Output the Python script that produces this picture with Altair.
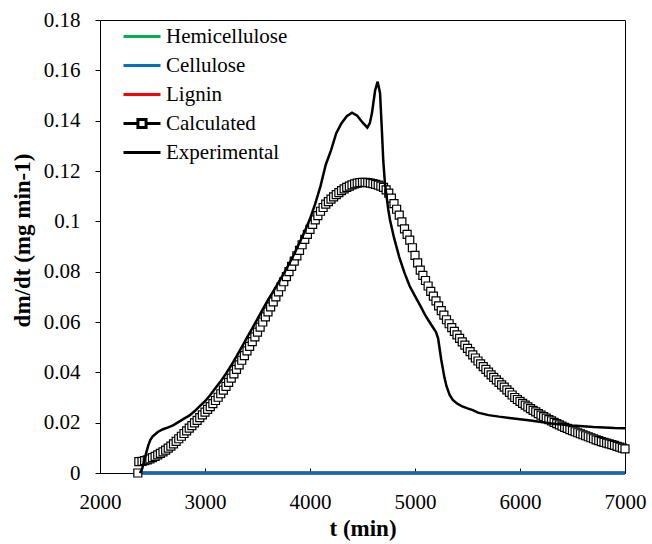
import altair as alt
import pandas as pd

# ---- data ----
series_names = ["Hemicellulose", "Cellulose", "Lignin", "Calculated", "Experimental"]
series_colors = ["#00B050", "#0070C0", "#FF0000", "black", "black"]

component_t = [2400, 7000]
hemicellulose = [0.0, 0.0]
cellulose = [0.0, 0.0]
lignin = [0.0, 0.0]

calc_t = [2360, 2370] + list(range(2400, 7001, 25))
calc_v = [0.0, 0.0045,
          0.0046, 0.0049, 0.0052, 0.0056, 0.0061, 0.0066, 0.0072, 0.0078, 0.0084, 0.0091,
          0.0099, 0.0107, 0.0116, 0.0126, 0.0136, 0.0146, 0.0157, 0.0167, 0.0178, 0.0188,
          0.0199, 0.0209, 0.0220, 0.0231, 0.0242, 0.0253, 0.0264, 0.0276, 0.0288, 0.0301,
          0.0315, 0.0329, 0.0344, 0.0360, 0.0377, 0.0394, 0.0412, 0.0430, 0.0448, 0.0466,
          0.0485, 0.0503, 0.0522, 0.0541, 0.0560, 0.0580, 0.0600, 0.0620, 0.0640, 0.0660,
          0.0680, 0.0700, 0.0720, 0.0740, 0.0760, 0.0780, 0.0800, 0.0821, 0.0842, 0.0863,
          0.0885, 0.0907, 0.0928, 0.0948, 0.0968, 0.0988, 0.1006, 0.1023, 0.1040, 0.1055,
          0.1068, 0.1078, 0.1088, 0.1097, 0.1106, 0.1114, 0.1122, 0.1129, 0.1135, 0.1140,
          0.1145, 0.1149, 0.1152, 0.1154, 0.1155, 0.1155, 0.1154, 0.1152, 0.1150, 0.1147,
          0.1144, 0.1140, 0.1135, 0.1125, 0.1112, 0.1092, 0.1070, 0.1048, 0.1025, 0.0998,
          0.0970, 0.0948, 0.0925, 0.0895, 0.0865, 0.0835, 0.0806, 0.0785, 0.0765, 0.0743,
          0.0722, 0.0703, 0.0684, 0.0664, 0.0645, 0.0627, 0.0609, 0.0593, 0.0578, 0.0563,
          0.0549, 0.0535, 0.0521, 0.0508, 0.0495, 0.0482, 0.0469, 0.0457, 0.0445, 0.0434,
          0.0423, 0.0412, 0.0401, 0.0390, 0.0380, 0.0370, 0.0360, 0.0350, 0.0341, 0.0330,
          0.0320, 0.0310, 0.0300, 0.0292, 0.0285, 0.0277, 0.0270, 0.0263, 0.0256, 0.0249,
          0.0243, 0.0236, 0.0230, 0.0224, 0.0218, 0.0212, 0.0207, 0.0201, 0.0196, 0.0191,
          0.0186, 0.0181, 0.0177, 0.0172, 0.0168, 0.0164, 0.0160, 0.0156, 0.0152, 0.0148,
          0.0144, 0.0140, 0.0136, 0.0132, 0.0129, 0.0125, 0.0122, 0.0119, 0.0116, 0.0113,
          0.0110, 0.0106, 0.0103, 0.0099, 0.0096]

exp_t = [2380, 2400, 2420, 2440, 2460, 2480, 2500, 2550, 2600, 2650, 2700, 2750, 2800, 2850,
         2900, 2950, 3000, 3050, 3100, 3150, 3200, 3250, 3300, 3350, 3400, 3450, 3500, 3550,
         3600, 3650, 3700, 3750, 3800, 3850, 3900, 3950, 4000, 4050, 4100, 4150, 4200, 4250,
         4300, 4350, 4400, 4450, 4500, 4546, 4570, 4590, 4620, 4644, 4667, 4683, 4698, 4714,
         4746, 4762, 4800, 4850, 4900, 4950, 5000, 5050, 5100, 5150, 5200, 5220, 5250, 5280,
         5300, 5330, 5360, 5400, 5450, 5500, 5550, 5600, 5700, 5800, 5900, 6000, 6100, 6200,
         6300, 6400, 6500, 6600, 6700, 6800, 6900, 7000]
exp_v = [0.0, 0.0015, 0.0045, 0.0080, 0.0110, 0.0132, 0.0145, 0.0163, 0.0174, 0.0181, 0.0190,
         0.0203, 0.0216, 0.0228, 0.0245, 0.0266, 0.0285, 0.0310, 0.0338, 0.0365, 0.0395, 0.0428,
         0.0463, 0.0500, 0.0538, 0.0575, 0.0612, 0.0650, 0.0688, 0.0722, 0.0757, 0.0792, 0.0830,
         0.0870, 0.0915, 0.0960, 0.1010, 0.1070, 0.1140, 0.1225, 0.1282, 0.1350, 0.1390, 0.1418,
         0.1432, 0.1420, 0.1393, 0.1372, 0.1390, 0.1430, 0.1520, 0.1555, 0.1510, 0.1376, 0.1240,
         0.1150, 0.1045, 0.1005, 0.0935, 0.0858, 0.0795, 0.0742, 0.0703, 0.0665, 0.0625, 0.0592,
         0.0560, 0.0535, 0.0450, 0.0380, 0.0345, 0.0310, 0.0290, 0.0276, 0.0265, 0.0257, 0.0250,
         0.0240, 0.0230, 0.0224, 0.0219, 0.0214, 0.0209, 0.0203, 0.0197, 0.0193, 0.0189, 0.0186,
         0.0183, 0.0181, 0.0179, 0.0178]

x_ticks = [2000, 3000, 4000, 5000, 6000, 7000]
y_ticks = [0, 0.02, 0.04, 0.06, 0.08, 0.1, 0.12, 0.14, 0.16, 0.18]

FONT = "Liberation Serif, Times New Roman, serif"
calc_symbol = "M-1,0H-0.22M0.22,0H1M-0.22,-0.22H0.22V0.22H-0.22Z"

# ---- encodings ----
x_enc = alt.X("t:Q", title="t (min)",
              scale=alt.Scale(domain=[2000, 7000], nice=False, zero=False),
              axis=alt.Axis(values=x_ticks, format="d", offset=-5, tickSize=5,
                            tickColor="black", domain=False, grid=False,
                            labelPadding=18, labelFlush=False, labelFont=FONT,
                            labelFontSize=21, labelColor="black",
                            titleFont=FONT, titleFontSize=23, titleFontWeight="bold",
                            titleColor="black", titleBaseline="middle", titleY=60))
y_enc = alt.Y("v:Q", title="dm/dt (mg min-1)",
              scale=alt.Scale(domain=[0, 0.18], nice=False),
              axis=alt.Axis(values=y_ticks, format="~g", tickSize=5, tickColor="black",
                            domain=False, grid=False, labelPadding=15, labelFlush=False,
                            labelFont=FONT, labelFontSize=21, labelColor="black",
                            titleFont=FONT, titleFontSize=23, titleFontWeight="bold",
                            titleColor="black", titleAngle=270, titleAlign="center",
                            titleBaseline="middle", titleX=-78, titleY=220))

def comp_layer(values, color):
    df = pd.DataFrame({"t": component_t, "v": values})
    return alt.Chart(df).mark_line(color=color, strokeWidth=3).encode(x=x_enc, y=y_enc)

hemi_layer = comp_layer(hemicellulose, series_colors[0])
lig_layer = comp_layer(lignin, series_colors[2])
cell_layer = comp_layer(cellulose, series_colors[1])

calc_layer = alt.Chart(pd.DataFrame({"t": calc_t, "v": calc_v})).mark_square(
    size=64, filled=True, fill="white", stroke="black", strokeWidth=1.2, opacity=1
).encode(x=x_enc, y=y_enc)

exp_layer = alt.Chart(pd.DataFrame({"t": exp_t, "v": exp_v})).mark_line(
    color="black", strokeWidth=2.5
).encode(x=x_enc, y=y_enc)

legend = alt.Legend(orient="none", legendX=22, legendY=2, title=None,
                    symbolSize=1369, symbolStrokeWidth=3, symbolOpacity=1,
                    labelFont=FONT, labelFontSize=21, labelColor="black",
                    labelOffset=4, clipHeight=29, rowPadding=0, padding=0)

legend_layer = alt.Chart(pd.DataFrame({"series": series_names})).mark_point(
    opacity=0, filled=False, strokeWidth=3
).encode(
    color=alt.Color("series:N", scale=alt.Scale(domain=series_names, range=series_colors),
                    legend=legend),
    shape=alt.Shape("series:N",
                    scale=alt.Scale(domain=series_names,
                                    range=["stroke", "stroke", "stroke", calc_symbol, "stroke"]),
                    legend=legend),
)

chart = alt.layer(
    hemi_layer, lig_layer, cell_layer, calc_layer, exp_layer, legend_layer
).properties(
    width=525, height=453,
    autosize=alt.AutoSizeParams(type="none"),
    padding={"left": 100, "top": 20, "right": 27, "bottom": 71},
    background="white",
).configure_view(stroke="black", strokeWidth=1)

chart.save("out.html", embed_options={"renderer": "svg", "actions": False})
